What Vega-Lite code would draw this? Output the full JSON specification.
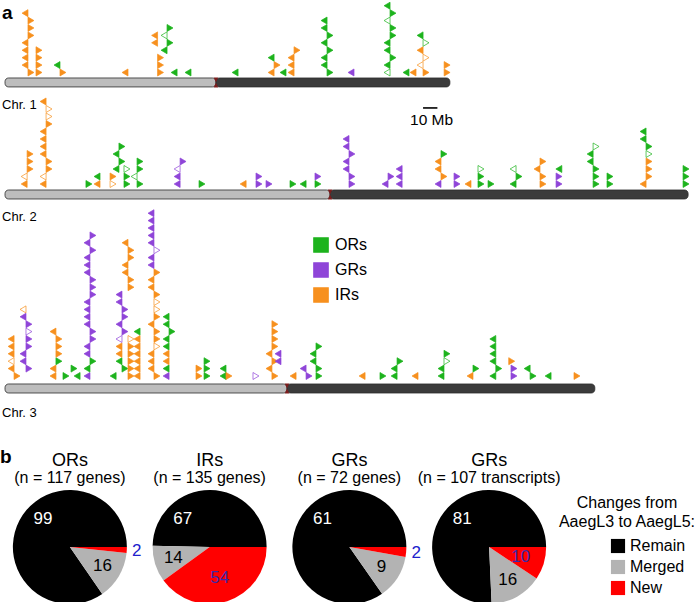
{
"$schema":"https://vega.github.io/schema/vega-lite/v6.json",
"padding":0,"spacing":0,"bounds":"flush",
"config":{"view":{"stroke":null},"font":"Liberation Sans"},
"datasets":{
"arms":[{"c":1,"arm":"p","s":0,"e":147},{"c":1,"arm":"q","s":147,"e":310},{"c":2,"arm":"p","s":0,"e":226.5},{"c":2,"arm":"q","s":226.5,"e":476},{"c":3,"arm":"p","s":0,"e":196.5},{"c":3,"arm":"q","s":196.5,"e":411}],
"bar":[{"s":291.3,"e":301.3,"t":"10 Mb"}],
"pie":[{"pie":"ORs","k":"Remain","n":99,"o":2},{"pie":"ORs","k":"Merged","n":16,"o":1},{"pie":"ORs","k":"New","n":2,"o":0},
{"pie":"IRs","k":"Remain","n":67,"o":2},{"pie":"IRs","k":"Merged","n":14,"o":1},{"pie":"IRs","k":"New","n":54,"o":0},
{"pie":"GRg","k":"Remain","n":61,"o":2},{"pie":"GRg","k":"Merged","n":9,"o":1},{"pie":"GRg","k":"New","n":2,"o":0},
{"pie":"GRt","k":"Remain","n":81,"o":2},{"pie":"GRt","k":"Merged","n":16,"o":1},{"pie":"GRt","k":"New","n":10,"o":0}],
"titles":[{"pie":"ORs","t1":"ORs","t2":"(n = 117 genes)"},{"pie":"IRs","t1":"IRs","t2":"(n = 135 genes)"},{"pie":"GRg","t1":"GRs","t2":"(n = 72 genes)"},{"pie":"GRt","t1":"GRs","t2":"(n = 107 transcripts)"}],
"tri":[
{"c":1,"x":16,"l":0,"d":"R","f":"I"},{"c":1,"x":16,"l":1,"d":"L","f":"I"},{"c":1,"x":16,"l":2,"d":"L","f":"I"},{"c":1,"x":16,"l":3,"d":"L","f":"I"},{"c":1,"x":16,"l":4,"d":"L","f":"I"},{"c":1,"x":16,"l":5,"d":"R","f":"I"},{"c":1,"x":16,"l":6,"d":"R","f":"I"},{"c":1,"x":16,"l":7,"d":"R","f":"I"},{"c":1,"x":16,"l":8,"d":"L","f":"I"},
{"c":1,"x":21.6,"l":0,"d":"R","f":"I"},{"c":1,"x":21.6,"l":1,"d":"R","f":"I"},{"c":1,"x":21.6,"l":2,"d":"R","f":"I"},{"c":1,"x":21.6,"l":3,"d":"R","f":"I"},
{"c":1,"x":38.3,"l":0,"d":"R","f":"I"},{"c":1,"x":38.3,"l":1,"d":"L","f":"O"},
{"c":1,"x":85.7,"l":0,"d":"L","f":"I"},
{"c":1,"x":106.3,"l":0,"d":"R","f":"I"},{"c":1,"x":106.3,"l":1,"d":"R","f":"I"},{"c":1,"x":106.3,"l":2,"d":"R","f":"I"},{"c":1,"x":106.3,"l":4,"d":"L","f":"I"},{"c":1,"x":106.3,"l":5,"d":"L","f":"I"},
{"c":1,"x":112.9,"l":3,"d":"L","f":"O"},{"c":1,"x":112.9,"l":4,"d":"R","f":"O"},{"c":1,"x":112.9,"l":5,"d":"L","f":"O","o":1},{"c":1,"x":112.9,"l":6,"d":"R","f":"O"},
{"c":1,"x":119.9,"l":0,"d":"L","f":"O"},{"c":1,"x":129.6,"l":0,"d":"L","f":"O"},{"c":1,"x":162.4,"l":0,"d":"L","f":"O"},
{"c":1,"x":187.5,"l":0,"d":"L","f":"I"},{"c":1,"x":187.5,"l":1,"d":"R","f":"I"},{"c":1,"x":187.5,"l":2,"d":"L","f":"O"},
{"c":1,"x":195.8,"l":0,"d":"L","f":"O"},
{"c":1,"x":201.4,"l":0,"d":"L","f":"I"},{"c":1,"x":201.4,"l":1,"d":"L","f":"I"},{"c":1,"x":201.4,"l":2,"d":"L","f":"I"},{"c":1,"x":201.4,"l":3,"d":"R","f":"I"},
{"c":1,"x":224.4,"l":0,"d":"R","f":"O"},{"c":1,"x":224.4,"l":1,"d":"L","f":"O"},{"c":1,"x":224.4,"l":2,"d":"L","f":"O"},{"c":1,"x":224.4,"l":3,"d":"R","f":"O"},{"c":1,"x":224.4,"l":4,"d":"L","f":"O"},{"c":1,"x":224.4,"l":5,"d":"R","f":"O"},{"c":1,"x":224.4,"l":6,"d":"L","f":"O"},{"c":1,"x":224.4,"l":7,"d":"L","f":"O"},
{"c":1,"x":243.2,"l":0,"d":"L","f":"G"},
{"c":1,"x":268.3,"l":0,"d":"L","f":"O","o":1},{"c":1,"x":268.3,"l":1,"d":"L","f":"O"},{"c":1,"x":268.3,"l":2,"d":"R","f":"O"},{"c":1,"x":268.3,"l":3,"d":"L","f":"O"},{"c":1,"x":268.3,"l":4,"d":"L","f":"O"},{"c":1,"x":268.3,"l":5,"d":"R","f":"O"},{"c":1,"x":268.3,"l":6,"d":"R","f":"O"},{"c":1,"x":268.3,"l":7,"d":"L","f":"O","o":1},{"c":1,"x":268.3,"l":8,"d":"R","f":"O"},{"c":1,"x":268.3,"l":9,"d":"L","f":"O"},
{"c":1,"x":281.5,"l":0,"d":"L","f":"O"},{"c":1,"x":286.4,"l":0,"d":"L","f":"I"},
{"c":1,"x":291.3,"l":0,"d":"R","f":"I"},{"c":1,"x":291.3,"l":1,"d":"L","f":"I","o":1},{"c":1,"x":291.3,"l":2,"d":"R","f":"I","o":1},{"c":1,"x":291.3,"l":3,"d":"L","f":"I"},{"c":1,"x":291.3,"l":4,"d":"R","f":"O","o":1},{"c":1,"x":291.3,"l":5,"d":"L","f":"O"},
{"c":1,"x":306,"l":0,"d":"R","f":"I"},{"c":1,"x":306,"l":1,"d":"R","f":"I"},

{"c":2,"x":15.4,"l":0,"d":"L","f":"I"},{"c":2,"x":15.4,"l":1,"d":"L","f":"I","o":1},{"c":2,"x":15.4,"l":2,"d":"R","f":"I"},{"c":2,"x":15.4,"l":3,"d":"R","f":"I"},{"c":2,"x":15.4,"l":4,"d":"R","f":"I"},
{"c":2,"x":28.6,"l":0,"d":"L","f":"I"},{"c":2,"x":28.6,"l":1,"d":"L","f":"I","o":1},{"c":2,"x":28.6,"l":2,"d":"R","f":"I"},{"c":2,"x":28.6,"l":3,"d":"R","f":"I"},{"c":2,"x":28.6,"l":4,"d":"L","f":"I"},{"c":2,"x":28.6,"l":5,"d":"L","f":"I"},{"c":2,"x":28.6,"l":6,"d":"L","f":"I"},{"c":2,"x":28.6,"l":7,"d":"L","f":"I"},{"c":2,"x":28.6,"l":8,"d":"R","f":"I"},{"c":2,"x":28.6,"l":9,"d":"R","f":"I","o":1},{"c":2,"x":28.6,"l":10,"d":"R","f":"I","o":1},{"c":2,"x":28.6,"l":11,"d":"L","f":"I"},
{"c":2,"x":56.4,"l":0,"d":"R","f":"O"},
{"c":2,"x":66.2,"l":0,"d":"L","f":"I"},{"c":2,"x":66.2,"l":1,"d":"L","f":"O"},
{"c":2,"x":73.2,"l":0,"d":"R","f":"I","o":1},{"c":2,"x":73.2,"l":1,"d":"R","f":"I"},
{"c":2,"x":79.4,"l":2,"d":"L","f":"O"},{"c":2,"x":79.4,"l":3,"d":"R","f":"O"},{"c":2,"x":79.4,"l":4,"d":"L","f":"O"},{"c":2,"x":79.4,"l":5,"d":"R","f":"O"},
{"c":2,"x":82.9,"l":0,"d":"R","f":"O"},{"c":2,"x":82.9,"l":1,"d":"R","f":"O"},{"c":2,"x":82.9,"l":2,"d":"R","f":"O","o":1},
{"c":2,"x":92,"l":0,"d":"R","f":"O"},{"c":2,"x":92,"l":1,"d":"L","f":"O","o":1},{"c":2,"x":92,"l":2,"d":"R","f":"O"},{"c":2,"x":92,"l":3,"d":"R","f":"O"},
{"c":2,"x":122,"l":0,"d":"L","f":"G"},{"c":2,"x":122,"l":1,"d":"L","f":"G"},{"c":2,"x":122,"l":2,"d":"L","f":"G","o":1},{"c":2,"x":122,"l":3,"d":"R","f":"G"},
{"c":2,"x":135.2,"l":0,"d":"R","f":"O"},{"c":2,"x":168,"l":0,"d":"L","f":"I"},
{"c":2,"x":174.9,"l":0,"d":"R","f":"G"},{"c":2,"x":174.9,"l":1,"d":"R","f":"G"},{"c":2,"x":181.9,"l":0,"d":"R","f":"G"},
{"c":2,"x":198.6,"l":0,"d":"R","f":"O"},{"c":2,"x":209.8,"l":0,"d":"L","f":"O"},
{"c":2,"x":216,"l":0,"d":"R","f":"O"},{"c":2,"x":216,"l":1,"d":"R","f":"G"},
{"c":2,"x":239.7,"l":0,"d":"R","f":"G"},{"c":2,"x":239.7,"l":1,"d":"R","f":"G"},{"c":2,"x":239.7,"l":2,"d":"L","f":"G"},{"c":2,"x":239.7,"l":3,"d":"L","f":"G"},{"c":2,"x":239.7,"l":4,"d":"R","f":"G"},{"c":2,"x":239.7,"l":5,"d":"L","f":"G"},{"c":2,"x":239.7,"l":6,"d":"L","f":"G"},
{"c":2,"x":266.9,"l":0,"d":"L","f":"G"},{"c":2,"x":266.9,"l":1,"d":"R","f":"G"},
{"c":2,"x":276.7,"l":0,"d":"L","f":"G"},{"c":2,"x":276.7,"l":1,"d":"L","f":"G"},{"c":2,"x":276.7,"l":2,"d":"L","f":"G"},
{"c":2,"x":303.8,"l":0,"d":"L","f":"G"},{"c":2,"x":303.8,"l":1,"d":"R","f":"I"},{"c":2,"x":303.8,"l":2,"d":"L","f":"I"},{"c":2,"x":303.8,"l":3,"d":"L","f":"I"},{"c":2,"x":303.8,"l":4,"d":"R","f":"O"},
{"c":2,"x":312.9,"l":0,"d":"R","f":"G"},{"c":2,"x":312.9,"l":1,"d":"R","f":"G"},
{"c":2,"x":324.7,"l":0,"d":"L","f":"I"},
{"c":2,"x":329.6,"l":0,"d":"R","f":"O"},{"c":2,"x":329.6,"l":1,"d":"R","f":"O"},{"c":2,"x":329.6,"l":2,"d":"R","f":"O","o":1},
{"c":2,"x":336.6,"l":0,"d":"R","f":"O"},
{"c":2,"x":356.1,"l":0,"d":"L","f":"O"},{"c":2,"x":356.1,"l":1,"d":"R","f":"O"},{"c":2,"x":356.1,"l":2,"d":"L","f":"O","o":1},
{"c":2,"x":372.8,"l":0,"d":"R","f":"I"},{"c":2,"x":372.8,"l":1,"d":"R","f":"I"},{"c":2,"x":372.8,"l":2,"d":"L","f":"I"},{"c":2,"x":372.8,"l":3,"d":"R","f":"I"},
{"c":2,"x":384,"l":0,"d":"R","f":"G"},{"c":2,"x":384,"l":1,"d":"R","f":"G"},{"c":2,"x":388,"l":2,"d":"L","f":"O"},
{"c":2,"x":409.8,"l":0,"d":"R","f":"O"},{"c":2,"x":409.8,"l":1,"d":"R","f":"O"},{"c":2,"x":409.8,"l":2,"d":"R","f":"O"},{"c":2,"x":409.8,"l":3,"d":"L","f":"O"},{"c":2,"x":409.8,"l":4,"d":"L","f":"O"},{"c":2,"x":409.8,"l":5,"d":"R","f":"O","o":1},
{"c":2,"x":419.5,"l":0,"d":"R","f":"O"},{"c":2,"x":419.5,"l":1,"d":"R","f":"O"},
{"c":2,"x":446.7,"l":0,"d":"L","f":"I"},{"c":2,"x":446.7,"l":1,"d":"R","f":"I"},{"c":2,"x":446.7,"l":2,"d":"R","f":"I"},{"c":2,"x":446.7,"l":3,"d":"R","f":"I"},{"c":2,"x":446.7,"l":4,"d":"R","f":"O","o":1},{"c":2,"x":446.7,"l":5,"d":"R","f":"O"},{"c":2,"x":446.7,"l":6,"d":"L","f":"O"},{"c":2,"x":446.7,"l":7,"d":"L","f":"O"},
{"c":2,"x":472.5,"l":0,"d":"R","f":"O"},{"c":2,"x":472.5,"l":1,"d":"R","f":"O"},{"c":2,"x":472.5,"l":2,"d":"R","f":"O"},

{"c":3,"x":6.3,"l":0,"d":"R","f":"I"},{"c":3,"x":6.3,"l":1,"d":"L","f":"I"},{"c":3,"x":6.3,"l":2,"d":"L","f":"I","o":1},{"c":3,"x":6.3,"l":3,"d":"L","f":"I"},{"c":3,"x":6.3,"l":4,"d":"L","f":"I"},{"c":3,"x":6.3,"l":5,"d":"L","f":"I"},
{"c":3,"x":14.6,"l":1,"d":"R","f":"G"},{"c":3,"x":14.6,"l":2,"d":"L","f":"G"},{"c":3,"x":14.6,"l":3,"d":"L","f":"G"},{"c":3,"x":14.6,"l":4,"d":"R","f":"G"},{"c":3,"x":14.6,"l":5,"d":"R","f":"G"},{"c":3,"x":14.6,"l":6,"d":"R","f":"G","o":1},{"c":3,"x":14.6,"l":7,"d":"R","f":"G"},{"c":3,"x":14.6,"l":8,"d":"L","f":"G"},{"c":3,"x":14.6,"l":9,"d":"L","f":"I","o":1},
{"c":3,"x":35.5,"l":0,"d":"L","f":"I"},{"c":3,"x":35.5,"l":1,"d":"L","f":"I"},{"c":3,"x":35.5,"l":2,"d":"R","f":"O"},{"c":3,"x":35.5,"l":3,"d":"R","f":"I"},{"c":3,"x":35.5,"l":4,"d":"R","f":"I"},{"c":3,"x":35.5,"l":5,"d":"R","f":"I"},{"c":3,"x":35.5,"l":6,"d":"L","f":"I"},
{"c":3,"x":40.4,"l":0,"d":"R","f":"O"},{"c":3,"x":46,"l":1,"d":"R","f":"O"},{"c":3,"x":52.3,"l":0,"d":"L","f":"O"},
{"c":3,"x":59.2,"l":0,"d":"L","f":"G"},{"c":3,"x":59.2,"l":1,"d":"L","f":"O"},{"c":3,"x":59.2,"l":2,"d":"R","f":"O"},{"c":3,"x":59.2,"l":3,"d":"L","f":"G"},{"c":3,"x":59.2,"l":4,"d":"L","f":"G"},{"c":3,"x":59.2,"l":5,"d":"R","f":"G"},{"c":3,"x":59.2,"l":6,"d":"R","f":"G"},{"c":3,"x":59.2,"l":7,"d":"L","f":"G"},{"c":3,"x":59.2,"l":8,"d":"L","f":"G"},{"c":3,"x":59.2,"l":9,"d":"L","f":"G"},{"c":3,"x":59.2,"l":10,"d":"L","f":"G"},{"c":3,"x":59.2,"l":11,"d":"R","f":"G"},{"c":3,"x":59.2,"l":12,"d":"R","f":"G"},{"c":3,"x":59.2,"l":13,"d":"R","f":"G"},{"c":3,"x":59.2,"l":14,"d":"L","f":"G"},{"c":3,"x":59.2,"l":15,"d":"L","f":"G"},{"c":3,"x":59.2,"l":16,"d":"L","f":"G"},{"c":3,"x":59.2,"l":17,"d":"R","f":"G"},{"c":3,"x":59.2,"l":18,"d":"L","f":"G"},{"c":3,"x":59.2,"l":19,"d":"R","f":"G"},
{"c":3,"x":77.4,"l":0,"d":"L","f":"O"},
{"c":3,"x":81.5,"l":1,"d":"R","f":"O"},{"c":3,"x":81.5,"l":2,"d":"L","f":"O"},{"c":3,"x":81.5,"l":3,"d":"L","f":"I"},{"c":3,"x":81.5,"l":4,"d":"L","f":"I"},{"c":3,"x":81.5,"l":5,"d":"L","f":"G","o":1},{"c":3,"x":81.5,"l":6,"d":"R","f":"G"},{"c":3,"x":81.5,"l":7,"d":"L","f":"G"},{"c":3,"x":81.5,"l":8,"d":"R","f":"G"},{"c":3,"x":81.5,"l":9,"d":"R","f":"G"},{"c":3,"x":81.5,"l":10,"d":"L","f":"G"},{"c":3,"x":81.5,"l":11,"d":"L","f":"G"},
{"c":3,"x":85.7,"l":0,"d":"R","f":"I"},{"c":3,"x":85.7,"l":1,"d":"R","f":"I"},{"c":3,"x":85.7,"l":2,"d":"R","f":"I"},{"c":3,"x":85.7,"l":3,"d":"R","f":"I"},{"c":3,"x":85.7,"l":4,"d":"R","f":"I"},{"c":3,"x":85.7,"l":5,"d":"R","f":"I","o":1},{"c":3,"x":85.7,"l":12,"d":"R","f":"I"},{"c":3,"x":85.7,"l":13,"d":"R","f":"I"},{"c":3,"x":85.7,"l":14,"d":"L","f":"I"},{"c":3,"x":85.7,"l":15,"d":"L","f":"I"},{"c":3,"x":85.7,"l":16,"d":"R","f":"I"},{"c":3,"x":85.7,"l":17,"d":"R","f":"I"},{"c":3,"x":85.7,"l":18,"d":"L","f":"I"},
{"c":3,"x":94.1,"l":0,"d":"L","f":"I"},{"c":3,"x":94.1,"l":1,"d":"L","f":"I"},{"c":3,"x":94.1,"l":2,"d":"L","f":"I"},{"c":3,"x":94.1,"l":3,"d":"L","f":"I"},{"c":3,"x":94.1,"l":4,"d":"L","f":"I"},{"c":3,"x":94.1,"l":5,"d":"L","f":"I"},{"c":3,"x":94.1,"l":6,"d":"L","f":"O"},
{"c":3,"x":103.8,"l":0,"d":"R","f":"I"},{"c":3,"x":103.8,"l":1,"d":"L","f":"I"},{"c":3,"x":103.8,"l":2,"d":"L","f":"I"},{"c":3,"x":103.8,"l":3,"d":"L","f":"I"},{"c":3,"x":103.8,"l":4,"d":"R","f":"I","o":1},{"c":3,"x":103.8,"l":5,"d":"R","f":"I"},{"c":3,"x":103.8,"l":6,"d":"R","f":"I"},{"c":3,"x":103.8,"l":7,"d":"L","f":"I"},{"c":3,"x":103.8,"l":8,"d":"R","f":"I"},{"c":3,"x":103.8,"l":9,"d":"R","f":"I","o":1},{"c":3,"x":103.8,"l":10,"d":"R","f":"I","o":1},{"c":3,"x":103.8,"l":11,"d":"R","f":"I"},{"c":3,"x":103.8,"l":12,"d":"L","f":"I"},{"c":3,"x":103.8,"l":13,"d":"L","f":"I"},{"c":3,"x":103.8,"l":14,"d":"R","f":"I"},{"c":3,"x":103.8,"l":15,"d":"L","f":"G"},{"c":3,"x":103.8,"l":16,"d":"L","f":"G"},{"c":3,"x":103.8,"l":17,"d":"R","f":"G","o":1},{"c":3,"x":103.8,"l":18,"d":"L","f":"G"},{"c":3,"x":103.8,"l":19,"d":"L","f":"G"},{"c":3,"x":103.8,"l":20,"d":"L","f":"G"},{"c":3,"x":103.8,"l":21,"d":"L","f":"G"},{"c":3,"x":103.8,"l":22,"d":"L","f":"G"},
{"c":3,"x":114.3,"l":0,"d":"L","f":"G"},{"c":3,"x":114.3,"l":1,"d":"L","f":"O"},{"c":3,"x":114.3,"l":2,"d":"L","f":"I"},{"c":3,"x":114.3,"l":3,"d":"L","f":"I"},{"c":3,"x":114.3,"l":4,"d":"L","f":"O"},{"c":3,"x":114.3,"l":5,"d":"L","f":"O"},{"c":3,"x":114.3,"l":6,"d":"R","f":"O"},{"c":3,"x":114.3,"l":7,"d":"L","f":"O"},{"c":3,"x":114.3,"l":8,"d":"L","f":"O"},
{"c":3,"x":133.1,"l":0,"d":"R","f":"I"},{"c":3,"x":133.1,"l":1,"d":"R","f":"I"},
{"c":3,"x":138.7,"l":0,"d":"R","f":"O"},{"c":3,"x":138.7,"l":1,"d":"R","f":"O"},{"c":3,"x":138.7,"l":2,"d":"R","f":"O"},
{"c":3,"x":154,"l":0,"d":"L","f":"O"},{"c":3,"x":154,"l":1,"d":"L","f":"O"},{"c":3,"x":154,"l":0,"d":"R","f":"I"},
{"c":3,"x":172.8,"l":0,"d":"R","f":"G","o":1},
{"c":3,"x":186,"l":0,"d":"R","f":"I"},{"c":3,"x":186,"l":1,"d":"L","f":"I"},{"c":3,"x":186,"l":2,"d":"R","f":"I"},{"c":3,"x":186,"l":3,"d":"L","f":"I"},{"c":3,"x":186,"l":4,"d":"R","f":"I"},{"c":3,"x":186,"l":5,"d":"R","f":"I"},{"c":3,"x":186,"l":6,"d":"R","f":"I"},{"c":3,"x":186,"l":7,"d":"R","f":"I"},
{"c":3,"x":192.3,"l":2,"d":"L","f":"G"},{"c":3,"x":192.3,"l":3,"d":"L","f":"G"},
{"c":3,"x":202.8,"l":0,"d":"L","f":"I"},
{"c":3,"x":209.8,"l":0,"d":"R","f":"G"},{"c":3,"x":209.8,"l":1,"d":"L","f":"G"},
{"c":3,"x":216.7,"l":0,"d":"R","f":"O"},{"c":3,"x":216.7,"l":1,"d":"R","f":"O"},{"c":3,"x":216.7,"l":2,"d":"L","f":"O"},{"c":3,"x":216.7,"l":3,"d":"L","f":"O"},{"c":3,"x":216.7,"l":4,"d":"R","f":"O"},
{"c":3,"x":250.9,"l":0,"d":"L","f":"I"},{"c":3,"x":261.3,"l":0,"d":"R","f":"O"},
{"c":3,"x":273.2,"l":0,"d":"L","f":"O"},{"c":3,"x":273.2,"l":1,"d":"L","f":"O"},{"c":3,"x":273.2,"l":2,"d":"R","f":"O"},
{"c":3,"x":287.8,"l":0,"d":"L","f":"I"},
{"c":3,"x":305.9,"l":0,"d":"L","f":"O"},{"c":3,"x":305.9,"l":1,"d":"L","f":"O"},{"c":3,"x":305.9,"l":2,"d":"R","f":"O","o":1},{"c":3,"x":305.9,"l":3,"d":"R","f":"O"},
{"c":3,"x":326.1,"l":0,"d":"L","f":"I"},{"c":3,"x":326.1,"l":1,"d":"R","f":"O"},
{"c":3,"x":342,"l":0,"d":"L","f":"O"},{"c":3,"x":342,"l":1,"d":"R","f":"O"},{"c":3,"x":342,"l":2,"d":"L","f":"O"},{"c":3,"x":342,"l":3,"d":"L","f":"O"},{"c":3,"x":342,"l":4,"d":"L","f":"O"},{"c":3,"x":342,"l":5,"d":"L","f":"O"},
{"c":3,"x":351,"l":2,"d":"R","f":"I"},{"c":3,"x":352.6,"l":0,"d":"R","f":"G"},{"c":3,"x":352.6,"l":1,"d":"R","f":"G"},
{"c":3,"x":365.9,"l":0,"d":"R","f":"O"},{"c":3,"x":365.9,"l":1,"d":"L","f":"O"},
{"c":3,"x":380.5,"l":0,"d":"L","f":"O"},{"c":3,"x":396.5,"l":0,"d":"R","f":"I"}
]},
"vconcat":[
{"width":698,"height":115,
 "layer":[
  {"data":{"name":"arms"},"transform":[{"filter":"datum.c==1"}],"mark":{"type":"rect","cornerRadius":3.5,"stroke":"#2b2b2b","strokeWidth":0.8},
   "encoding":{"x":{"field":"s","type":"quantitative","scale":{"domain":[-3.5,482.9],"nice":false,"zero":false},"axis":null},"x2":{"field":"e"},
    "y":{"datum":-0.74,"type":"quantitative","scale":{"domain":[-6,9.5],"nice":false,"zero":false},"axis":null},"y2":{"datum":-1.95},
    "fill":{"condition":{"test":"datum.arm=='p'","value":"#bdbdbd"},"value":"#3b3b3b"}}},
  {"data":{"name":"arms"},"transform":[{"filter":"datum.c==1 && datum.arm=='p'"}],"mark":{"type":"point","shape":"M-0.45,-1L0.45,-1L-0.45,1L0.45,1Z","size":100,"filled":true,"color":"#7b1c1c","opacity":1},
   "encoding":{"x":{"field":"e","type":"quantitative"},"y":{"datum":-1.35,"type":"quantitative"}}},
  {"data":{"name":"arms"},"transform":[{"filter":"datum.c==1 && datum.arm=='p'"}],"mark":{"type":"text","text":"Chr. 1","align":"left","baseline":"middle","fontSize":13,"dx":-3},
   "encoding":{"x":{"field":"s","type":"quantitative"},"y":{"datum":-4.38,"type":"quantitative"}}},
  {"data":{"name":"arms"},"transform":[{"filter":"datum.c==1 && datum.arm=='p'"}],"mark":{"type":"text","text":"a","align":"left","baseline":"middle","fontSize":19,"fontWeight":"bold","dx":-3},
   "encoding":{"x":{"field":"s","type":"quantitative"},"y":{"datum":8.0,"type":"quantitative"}}},
  {"data":{"name":"bar"},"mark":{"type":"rule","strokeWidth":1.6,"color":"#000"},
   "encoding":{"x":{"field":"s","type":"quantitative"},"x2":{"field":"e"},"y":{"datum":-4.78,"type":"quantitative"}}},
  {"data":{"name":"bar"},"mark":{"type":"text","align":"left","baseline":"middle","fontSize":15.5,"dx":-13},
   "encoding":{"x":{"field":"s","type":"quantitative"},"y":{"datum":-6.4,"type":"quantitative"},"text":{"field":"t"}}},
  {"data":{"name":"tri"},"transform":[{"filter":"datum.c==1"}],"mark":{"type":"point","size":49,"strokeWidth":0.7,"opacity":1},
   "encoding":{"x":{"field":"x","type":"quantitative"},"y":{"field":"l","type":"quantitative"},
    "shape":{"field":"d","type":"nominal","scale":{"domain":["L","R"],"range":["M0,-1L-1.7,0L0,1Z","M0,-1L1.7,0L0,1Z"]},"legend":null},
    "fill":{"field":"f","type":"nominal","scale":{"domain":["O","G","I"],"range":["#1db31d","#8f45d8","#f7901e"]},"condition":{"test":"datum.o==1","value":"#ffffff"},
      "legend":{"orient":"none","legendX":313,"legendY":235,"title":null,"symbolType":"square","symbolSize":200,"labelFontSize":16,"rowPadding":3,"labelOffset":6,"labelExpr":"{'O':'ORs','G':'GRs','I':'IRs'}[datum.label]"}},
    "stroke":{"field":"f","type":"nominal","scale":{"domain":["O","G","I"],"range":["#1db31d","#8f45d8","#f7901e"]},"legend":null}}}
 ]},
{"width":698,"height":90,
 "layer":[
  {"data":{"name":"arms"},"transform":[{"filter":"datum.c==2"}],"mark":{"type":"rect","cornerRadius":3.5,"stroke":"#2b2b2b","strokeWidth":0.8},
   "encoding":{"x":{"field":"s","type":"quantitative","scale":{"domain":[-3.5,482.9],"nice":false,"zero":false},"axis":null},"x2":{"field":"e"},
    "y":{"datum":-0.8,"type":"quantitative","scale":{"domain":[-3.067,8.933],"nice":false,"zero":false},"axis":null},"y2":{"datum":-2.0},
    "fill":{"condition":{"test":"datum.arm=='p'","value":"#bdbdbd"},"value":"#3b3b3b"}}},
  {"data":{"name":"arms"},"transform":[{"filter":"datum.c==2 && datum.arm=='p'"}],"mark":{"type":"point","shape":"M-0.45,-1L0.45,-1L-0.45,1L0.45,1Z","size":100,"filled":true,"color":"#7b1c1c","opacity":1},
   "encoding":{"x":{"field":"e","type":"quantitative"},"y":{"datum":-1.4,"type":"quantitative"}}},
  {"data":{"name":"arms"},"transform":[{"filter":"datum.c==2 && datum.arm=='p'"}],"mark":{"type":"text","text":"Chr. 2","align":"left","baseline":"middle","fontSize":13,"dx":-3},
   "encoding":{"x":{"field":"s","type":"quantitative"},"y":{"datum":-4.4,"type":"quantitative"}}},
  {"data":{"name":"tri"},"transform":[{"filter":"datum.c==2"}],"mark":{"type":"point","size":49,"strokeWidth":0.7,"opacity":1},
   "encoding":{"x":{"field":"x","type":"quantitative"},"y":{"field":"l","type":"quantitative"},
    "shape":{"field":"d","type":"nominal","scale":{"domain":["L","R"],"range":["M0,-1L-1.7,0L0,1Z","M0,-1L1.7,0L0,1Z"]},"legend":null},
    "fill":{"field":"f","type":"nominal","scale":{"domain":["O","G","I"],"range":["#1db31d","#8f45d8","#f7901e"]},"condition":{"test":"datum.o==1","value":"#ffffff"},
      "legend":{"orient":"none","legendX":313,"legendY":235,"title":null,"symbolType":"square","symbolSize":200,"labelFontSize":16,"rowPadding":3,"labelOffset":6,"labelExpr":"{'O':'ORs','G':'GRs','I':'IRs'}[datum.label]"}},
    "stroke":{"field":"f","type":"nominal","scale":{"domain":["O","G","I"],"range":["#1db31d","#8f45d8","#f7901e"]},"legend":null}}}
 ]},
{"width":698,"height":283,
 "layer":[
  {"data":{"name":"arms"},"transform":[{"filter":"datum.c==3"}],"mark":{"type":"rect","cornerRadius":3.5,"stroke":"#2b2b2b","strokeWidth":0.8},
   "encoding":{"x":{"field":"s","type":"quantitative","scale":{"domain":[-3.5,482.9],"nice":false,"zero":false},"axis":null},"x2":{"field":"e"},
    "y":{"datum":-1.08,"type":"quantitative","scale":{"domain":[-15.41,22.84],"nice":false,"zero":false},"axis":null},"y2":{"datum":-2.3},
    "fill":{"condition":{"test":"datum.arm=='p'","value":"#bdbdbd"},"value":"#3b3b3b"}}},
  {"data":{"name":"arms"},"transform":[{"filter":"datum.c==3 && datum.arm=='p'"}],"mark":{"type":"point","shape":"M-0.45,-1L0.45,-1L-0.45,1L0.45,1Z","size":100,"filled":true,"color":"#7b1c1c","opacity":1},
   "encoding":{"x":{"field":"e","type":"quantitative"},"y":{"datum":-1.69,"type":"quantitative"}}},
  {"data":{"name":"arms"},"transform":[{"filter":"datum.c==3 && datum.arm=='p'"}],"mark":{"type":"text","text":"Chr. 3","align":"left","baseline":"middle","fontSize":13,"dx":-3},
   "encoding":{"x":{"field":"s","type":"quantitative"},"y":{"datum":-5.0,"type":"quantitative"}}},
  {"data":{"name":"arms"},"transform":[{"filter":"datum.c==3 && datum.arm=='p'"}],"mark":{"type":"text","text":"b","align":"left","baseline":"middle","fontSize":19,"fontWeight":"bold","dx":-5},
   "encoding":{"x":{"field":"s","type":"quantitative"},"y":{"datum":-10.95,"type":"quantitative"}}},
  {"data":{"name":"tri"},"transform":[{"filter":"datum.c==3"}],"mark":{"type":"point","size":49,"strokeWidth":0.7,"opacity":1},
   "encoding":{"x":{"field":"x","type":"quantitative"},"y":{"field":"l","type":"quantitative"},
    "shape":{"field":"d","type":"nominal","scale":{"domain":["L","R"],"range":["M0,-1L-1.7,0L0,1Z","M0,-1L1.7,0L0,1Z"]},"legend":null},
    "fill":{"field":"f","type":"nominal","scale":{"domain":["O","G","I"],"range":["#1db31d","#8f45d8","#f7901e"]},"condition":{"test":"datum.o==1","value":"#ffffff"},
      "legend":{"orient":"none","legendX":313,"legendY":235,"title":null,"symbolType":"square","symbolSize":200,"labelFontSize":16,"rowPadding":3,"labelOffset":6,"labelExpr":"{'O':'ORs','G':'GRs','I':'IRs'}[datum.label]"}},
    "stroke":{"field":"f","type":"nominal","scale":{"domain":["O","G","I"],"range":["#1db31d","#8f45d8","#f7901e"]},"legend":null}}}
 ]},
{"width":559,"height":114,
 "data":{"name":"pie"},
 "layer":[
  {"mark":{"type":"arc"},
   "encoding":{"x":{"field":"pie","type":"nominal","scale":{"domain":["ORs","IRs","GRg","GRt"],"paddingInner":0,"paddingOuter":0},"axis":null},
    "theta":{"field":"n","type":"quantitative","stack":"normalize","scale":{"range":[1.5708,7.854]}},
    "radius":{"field":"pie","type":"nominal","scale":{"range":[57,57]}},
    "radius2":{"value":0},
    "order":{"field":"o","type":"quantitative"},
    "color":{"field":"k","type":"nominal","scale":{"domain":["Remain","Merged","New"],"range":["#000000","#b3b3b3","#ff0000"]},
      "legend":{"orient":"none","legendX":558,"legendY":493,"title":["Changes from","AaegL3 to AaegL5:"],"titleFontSize":16,"titleFontWeight":"normal","titleAlign":"center","titleAnchor":"middle","titleLineHeight":19,"titlePadding":8,"symbolType":"square","symbolSize":200,"symbolStrokeWidth":0,"labelFontSize":16,"rowPadding":5,"symbolOffset":41}}}},
  {"mark":{"type":"text","radiusOffset":-19,"fontSize":17,"color":"#000000"},
   "encoding":{"x":{"field":"pie","type":"nominal"},"theta":{"field":"n","type":"quantitative","stack":"normalize"},"radius":{"field":"pie","type":"nominal"},"order":{"field":"o","type":"quantitative"},
    "text":{"condition":{"test":"datum.k=='Merged'","field":"n","type":"quantitative"},"value":""}}},
  {"mark":{"type":"text","radiusOffset":-24,"fontSize":17,"color":"#3a2aa8"},
   "encoding":{"x":{"field":"pie","type":"nominal"},"theta":{"field":"n","type":"quantitative","stack":"normalize"},"radius":{"field":"pie","type":"nominal"},"order":{"field":"o","type":"quantitative"},
    "text":{"condition":{"test":"datum.k=='New' && datum.n>=5","field":"n","type":"quantitative"},"value":""}}},
  {"mark":{"type":"text","radiusOffset":10,"fontSize":17,"color":"#2020cc"},
   "encoding":{"x":{"field":"pie","type":"nominal"},"theta":{"field":"n","type":"quantitative","stack":"normalize"},"radius":{"field":"pie","type":"nominal"},"order":{"field":"o","type":"quantitative"},
    "text":{"condition":{"test":"datum.k=='New' && datum.n<5","field":"n","type":"quantitative"},"value":""}}},
  {"mark":{"type":"text","dx":-27,"dy":-28,"fontSize":17,"color":"#ffffff"},
   "encoding":{"x":{"field":"pie","type":"nominal"},
    "text":{"condition":{"test":"datum.k=='Remain'","field":"n","type":"quantitative"},"value":""}}},
  {"data":{"name":"titles"},"mark":{"type":"text","dy":-86,"fontSize":18},
   "encoding":{"x":{"field":"pie","type":"nominal"},"text":{"field":"t1"}}},
  {"data":{"name":"titles"},"mark":{"type":"text","dy":-69,"fontSize":16},
   "encoding":{"x":{"field":"pie","type":"nominal"},"text":{"field":"t2"}}}
 ]}
]
}
